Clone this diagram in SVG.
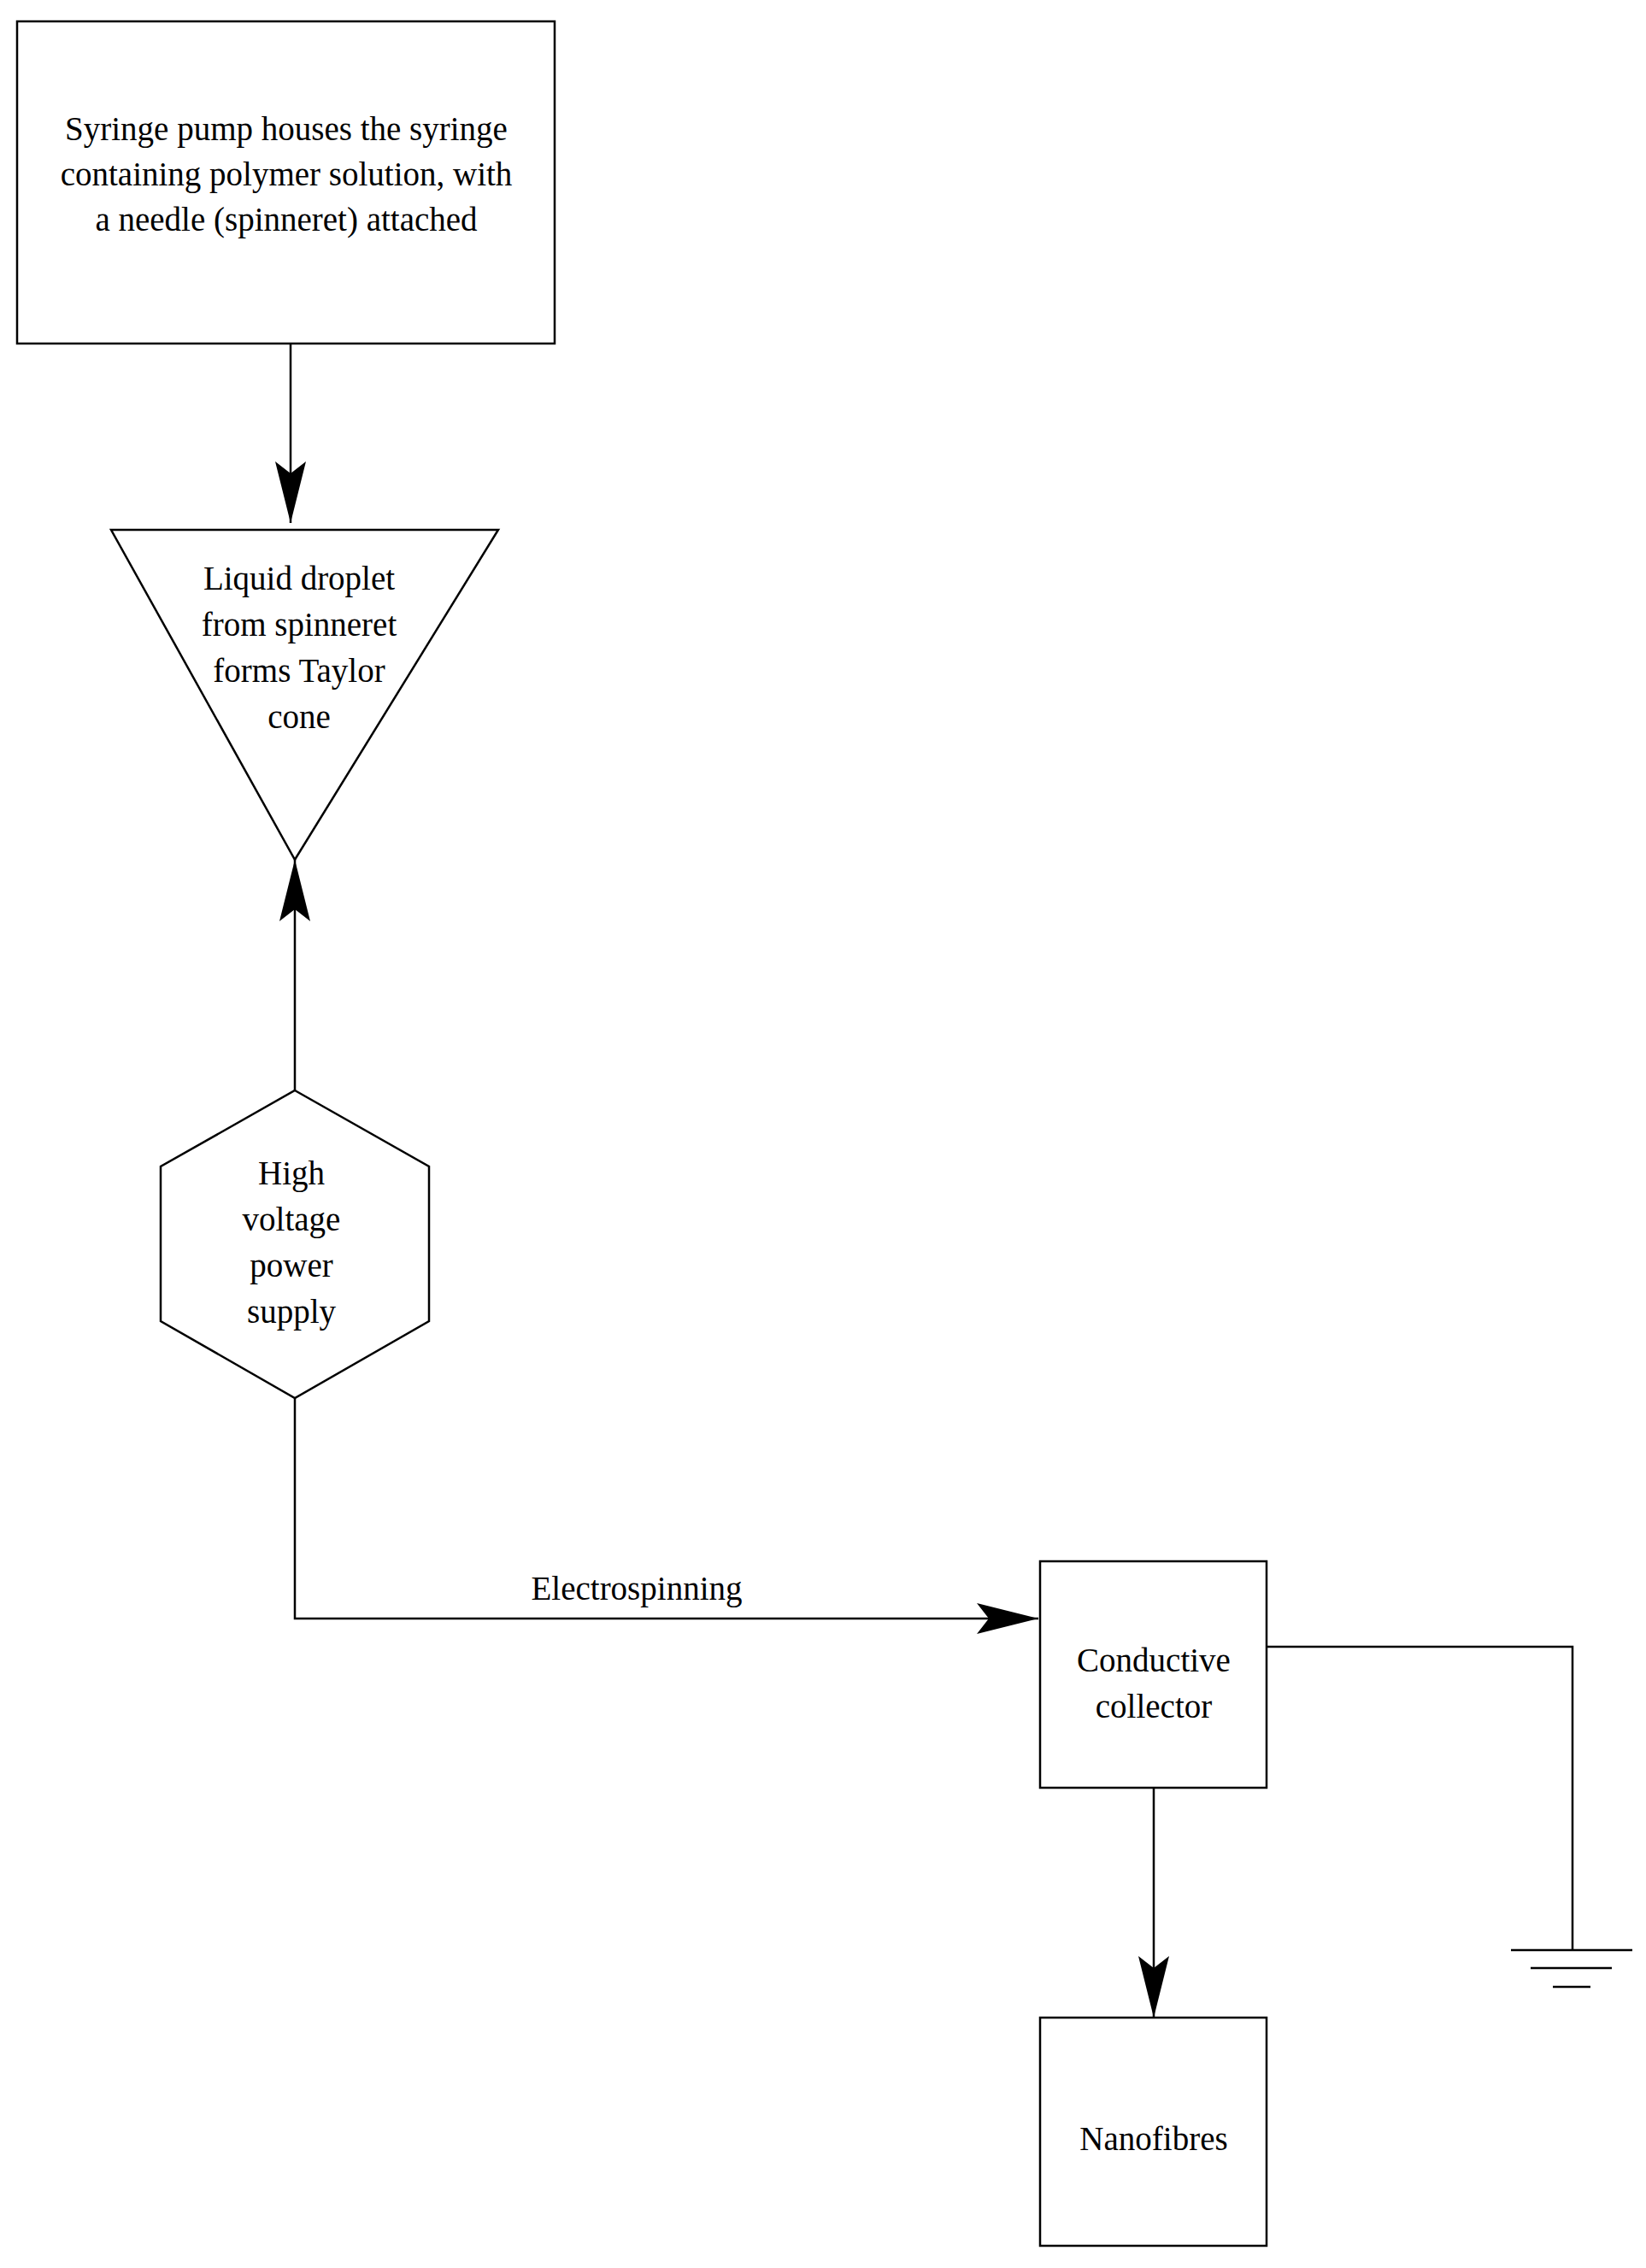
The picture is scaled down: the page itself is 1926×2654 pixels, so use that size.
<svg xmlns="http://www.w3.org/2000/svg" width="1926" height="2654" viewBox="0 0 1926 2654">
<style>
.s{fill:#fff;stroke:#000;stroke-width:2.5}
.c{fill:none;stroke:#000;stroke-width:2.5}
text{font-family:"Liberation Serif",serif;font-size:39px;text-anchor:middle;fill:#000}
</style>
<defs>
<marker id="a" markerUnits="userSpaceOnUse" markerWidth="80" markerHeight="40" refX="72" refY="18" orient="auto">
<path d="M0,0 L72,18 L0,36 L14,18 Z" fill="#000"/>
</marker>
</defs>
<rect width="1926" height="2654" fill="#fff"/>
<g id="connectors">
<path class="c" d="M340,402 V612" marker-end="url(#a)"/>
<path class="c" d="M345,1276 V1006" marker-end="url(#a)"/>
<path class="c" d="M345,1636 V1894 H1215" marker-end="url(#a)"/>
<text x="745" y="1872">Electrospinning</text>
<path class="c" d="M1350,2092 V2361" marker-end="url(#a)"/>
<path class="c" d="M1482,1927 H1840 V2282"/>
<path class="c" d="M1768,2282 H1910 M1791,2303 H1886 M1817,2325 H1861"/>
</g>
<g id="syringe">
<rect class="s" x="20" y="25" width="629" height="377"/>
<text x="335" y="164">Syringe pump houses the syringe</text>
<text x="335" y="217">containing polymer solution, with</text>
<text x="335" y="270">a needle (spinneret) attached</text>
</g>
<g id="droplet">
<polygon class="s" points="130,620 583,620 345,1006"/>
<text x="350" y="690">Liquid droplet</text>
<text x="350" y="744">from spinneret</text>
<text x="350" y="798">forms Taylor</text>
<text x="350" y="852">cone</text>
</g>
<g id="hv">
<polygon class="s" points="345,1276 502,1365 502,1546 345,1636 188,1546 188,1365"/>
<text x="341" y="1386">High</text>
<text x="341" y="1440">voltage</text>
<text x="341" y="1494">power</text>
<text x="341" y="1548">supply</text>
</g>
<g id="collector">
<rect class="s" x="1217" y="1827" width="265" height="265"/>
<text x="1350" y="1956">Conductive</text>
<text x="1350" y="2010">collector</text>
</g>
<g id="nanofibres">
<rect class="s" x="1217" y="2361" width="265" height="267"/>
<text x="1350" y="2516">Nanofibres</text>
</g>
</svg>
